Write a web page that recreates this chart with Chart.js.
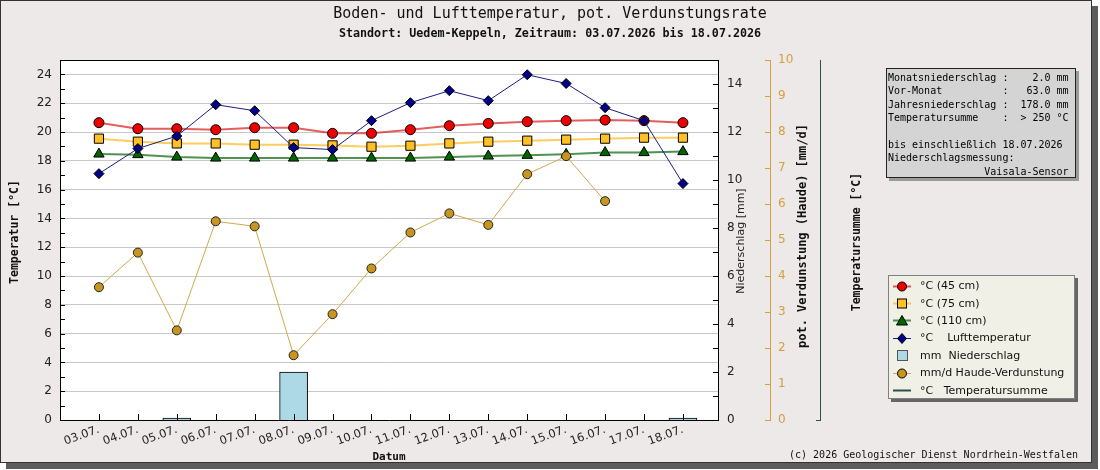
<!DOCTYPE html>
<html>
<head>
<meta charset="utf-8">
<script src="https://cdn.jsdelivr.net/npm/chart.js@4.4.1/dist/chart.umd.min.js"></script>
<style>
  body { margin: 0; width: 1100px; height: 470px; overflow: hidden; position: relative; background: #fff; font-family: 'DejaVu Sans', sans-serif; }
  #panel { position: absolute; left: 0; top: 0; width: 1090px; height: 461px; background: #ece9e8; border: 1px solid #333; box-shadow: 6px 6px 0 #5c5c5c; }
  #c { position: absolute; left: 0; top: 0; }
  #info { position: absolute; left: 886px; top: 68px; width: 190px; height: 110px; box-sizing: border-box; background: #d4d4d4; border: 1px solid #222; box-shadow: 3px 3px 0 #9a9a9a; font: 10px 'DejaVu Sans Mono', monospace; line-height: 13.4px; white-space: pre; padding: 2px 0 0 1px; color: #000; }
  #legend { position: absolute; left: 888px; top: 275px; width: 187px; height: 124px; box-sizing: border-box; background: #f0f0e6; border: 1px solid #808080; box-shadow: 3px 3px 0 #666; padding: 1px 0 0 4px; font-size: 11px; color: #111; }
  #legend .row { height: 17.4px; display: flex; align-items: center; white-space: pre; }
  #legend svg { width: 18px; height: 12px; margin-right: 9px; flex: none; }
  #credit { position: absolute; left: 760px; width: 318px; top: 449px; text-align: right; font: 10px 'DejaVu Sans Mono', monospace; line-height: 12px; color: #111; white-space: pre; }
</style>
</head>
<body>
<div id="panel"></div>
<canvas id="c" width="1100" height="470"></canvas>
<div id="info"></div>
<div id="legend"></div>
<div id="credit">(c) 2026 Geologischer Dienst Nordrhein-Westfalen</div>
<script>
const dates = ['03.07.', '04.07.', '05.07.', '06.07.', '07.07.', '08.07.', '09.07.', '10.07.',
  '11.07.', '12.07.', '13.07.', '14.07.', '15.07.', '16.07.', '17.07.', '18.07.'];

const temp45 = [20.65, 20.23, 20.23, 20.16, 20.30, 20.30, 19.91, 19.91, 20.16, 20.44, 20.60, 20.72, 20.79, 20.83, 20.79, 20.65];
const temp75 = [19.54, 19.33, 19.21, 19.21, 19.12, 19.12, 19.07, 18.98, 19.05, 19.21, 19.33, 19.40, 19.47, 19.54, 19.61, 19.61];
const temp110 = [18.47, 18.43, 18.26, 18.19, 18.19, 18.19, 18.19, 18.19, 18.19, 18.26, 18.33, 18.38, 18.45, 18.57, 18.57, 18.64];
const airTemp = [17.11, 18.85, 19.72, 21.90, 21.48, 18.92, 18.78, 20.79, 22.04, 22.87, 22.18, 23.98, 23.37, 21.69, 20.79, 16.42];
const precip = [0, 0, 0.08, 0, 0, 2.0, 0, 0, 0, 0, 0, 0, 0, 0, 0, 0.08];
const evap = [3.69, 4.65, 2.49, 5.52, 5.38, 1.80, 2.94, 4.21, 5.21, 5.74, 5.42, 6.83, 7.33, 6.08, null, null];

const seriesLabels = ['°C (45 cm)', '°C (75 cm)', '°C (110 cm)', '°C    Lufttemperatur',
  'mm  Niederschlag', 'mm/d Haude-Verdunstung', '°C   Temperatursumme'];

const tempTicks = [0, 2, 4, 6, 8, 10, 12, 14, 16, 18, 20, 22, 24];
const precipTicks = [0, 2, 4, 6, 8, 10, 12, 14];
const evapTicks = [0, 1, 2, 3, 4, 5, 6, 7, 8, 9, 10];
const tempRange = [0, 25];
const precipRange = [0, 15];
const evapRange = [0, 10];

const infoLines = [
  'Monatsniederschlag :    2.0 mm',
  'Vor-Monat          :   63.0 mm',
  'Jahresniederschlag :  178.0 mm',
  'Temperatursumme    :  > 250 °C',
  '',
  'bis einschließlich 18.07.2026',
  'Niederschlagsmessung:',
  '                Vaisala-Sensor'
];
document.getElementById('info').textContent = infoLines.join('\n');

const evapColor = '#d2a040';
const tsColor = '#2f4f4f';
const pts = arr => arr.map((v, i) => ({ x: i, y: v }));
const tickList = list => s => { s.ticks = list.map(v => ({ value: v })); };

const plotBg = {
  id: 'plotBg',
  beforeDraw(chart) {
    const { ctx, chartArea: a } = chart;
    ctx.save();
    ctx.fillStyle = '#fff';
    ctx.fillRect(a.left, a.top, a.right - a.left, a.bottom - a.top);
    ctx.restore();
  }
};

const innerTicks = {
  id: 'innerTicks',
  afterDraw(chart) {
    const { ctx, chartArea: a, scales: s } = chart;
    const px = v => Math.round(v) + 0.5;
    const seg = (x1, y1, x2, y2, c) => {
      ctx.strokeStyle = c;
      ctx.beginPath(); ctx.moveTo(x1, y1); ctx.lineTo(x2, y2); ctx.stroke();
    };
    ctx.save();
    ctx.lineWidth = 1;
    seg(a.left, px(a.top), a.right, px(a.top), '#000');
    for (let v = s.y.min; v <= s.y.max; v++) {
      const y = px(s.y.getPixelForValue(v));
      seg(a.left, y, a.left + 5, y, '#000');
    }
    for (let v = s.yp.min; v <= s.yp.max; v++) {
      const y = px(s.yp.getPixelForValue(v));
      seg(a.right - 5, y, a.right, y, '#000');
    }
    for (let v = s.ye.min; v <= s.ye.max; v++) {
      const y = px(s.ye.getPixelForValue(v));
      seg(s.ye.left - 5, y, s.ye.left, y, evapColor);
    }
    seg(s.ts.left - 4, px(a.bottom), s.ts.left, px(a.bottom), tsColor);
    dates.forEach((d, i) => {
      const x = px(s.x.getPixelForValue(i));
      seg(x, a.bottom, x, a.bottom - 6, '#000');
    });
    ctx.restore();
  }
};

// vertical axis titles read bottom-to-top on all axes
const axisTitles = {
  id: 'axisTitles',
  afterDraw(chart) {
    const { ctx, chartArea: a, scales } = chart;
    const mid = (a.top + a.bottom) / 2;
    const spots = { y: [15, -8], yp: [23, 1], ye: [33, -4], ts: [37, 2] };
    Object.keys(spots).forEach(id => {
      const sc = scales[id];
      const t = sc.options.title;
      const f = Chart.helpers.toFont(t.font);
      ctx.save();
      ctx.translate(sc.left + spots[id][0], mid + spots[id][1]);
      ctx.rotate(-Math.PI / 2);
      ctx.font = f.string;
      ctx.fillStyle = t.color;
      ctx.textAlign = 'center';
      ctx.textBaseline = 'middle';
      ctx.fillText(t.text, 0, 0);
      ctx.restore();
    });
  }
};

const mono = 'DejaVu Sans Mono';
Chart.defaults.font.family = 'DejaVu Sans';

const chart = new Chart(document.getElementById('c'), {
  type: 'line',
  data: {
    datasets: [
      { label: seriesLabels[0], data: pts(temp45), yAxisID: 'y', order: 6,
        borderColor: 'rgba(220,40,40,0.75)', borderWidth: 2,
        pointStyle: 'circle', pointRadius: 5, pointBackgroundColor: '#ee0000', pointBorderColor: '#000', pointBorderWidth: 1 },
      { label: seriesLabels[1], data: pts(temp75), yAxisID: 'y', order: 5,
        borderColor: 'rgba(250,190,40,0.75)', borderWidth: 2,
        pointStyle: 'rect', pointRadius: 6.5, pointBackgroundColor: '#ffc125', pointBorderColor: '#000', pointBorderWidth: 1 },
      { label: seriesLabels[2], data: pts(temp110), yAxisID: 'y', order: 4,
        borderColor: 'rgba(20,110,20,0.75)', borderWidth: 2,
        pointStyle: 'triangle', pointRadius: 6, pointBackgroundColor: '#006400', pointBorderColor: '#000', pointBorderWidth: 1 },
      { label: seriesLabels[3], data: pts(airTemp), yAxisID: 'y', order: 3,
        borderColor: '#1c1c88', borderWidth: 1,
        pointStyle: 'rectRot', pointRadius: 5, pointBackgroundColor: '#000088', pointBorderColor: '#000', pointBorderWidth: 1 },
      { type: 'bar', label: seriesLabels[4], data: pts(precip), yAxisID: 'yp', order: 7,
        backgroundColor: '#add8e6', borderColor: '#000', borderWidth: 1, barThickness: 28 },
      { label: seriesLabels[5], data: pts(evap), yAxisID: 'ye', order: 2,
        borderColor: '#d4a84a', borderWidth: 1,
        pointStyle: 'circle', pointRadius: 4.5, pointBackgroundColor: '#c8961e', pointBorderColor: '#222', pointBorderWidth: 1 },
      { label: seriesLabels[6], data: [], yAxisID: 'ts', order: 1,
        borderColor: tsColor, borderWidth: 2, pointRadius: 0 }
    ]
  },
  options: {
    responsive: false,
    animation: false,
    devicePixelRatio: 1,
    layout: { padding: 0 },
    plugins: {
      legend: { display: false },
      tooltip: { enabled: false },
      title: { display: true, text: 'Boden- und Lufttemperatur, pot. Verdunstungsrate', color: '#111',
        font: { family: mono, size: 15, weight: 'normal' }, padding: { top: 5, bottom: 0 } },
      subtitle: { display: true, text: 'Standort: Uedem-Keppeln, Zeitraum: 03.07.2026 bis 18.07.2026', color: '#111',
        font: { family: mono, size: 11.7, weight: 'bold' }, padding: { top: 4, bottom: 19 } }
    },
    scales: {
      x: {
        type: 'linear', min: -1, max: 15.9, offset: false,
        afterBuildTicks: s => { s.ticks = dates.map((d, i) => ({ value: i })); },
        afterFit: s => { s.height = 50; },
        ticks: { autoSkip: false, minRotation: 20, maxRotation: 20, padding: 3, color: '#222', font: { size: 11.5 },
          callback: v => dates[v] },
        grid: { display: false, drawTicks: false, offset: false },
        border: { color: '#000' },
        title: { display: true, text: 'Datum', color: '#111', font: { family: mono, size: 11, weight: 'bold' },
          padding: { top: 0, bottom: 6 } }
      },
      y: {
        position: 'left', min: tempRange[0], max: tempRange[1],
        afterBuildTicks: tickList(tempTicks),
        afterFit: s => { s.width = 60; },
        ticks: { padding: 8, color: '#222', font: { size: 12 } },
        grid: { color: '#c8c8c8', drawTicks: false },
        border: { color: '#000' },
        title: { display: false, text: 'Temperatur [°C]', color: '#111', font: { family: mono, size: 11.5, weight: 'bold' } }
      },
      yp: {
        position: 'right', weight: 0, min: precipRange[0], max: precipRange[1],
        afterBuildTicks: tickList(precipTicks),
        afterFit: s => { s.width = 52; },
        ticks: { padding: 9, color: '#222', font: { size: 12 } },
        grid: { display: false, drawTicks: false },
        border: { color: '#000' },
        title: { display: false, text: 'Niederschlag [mm]', color: '#222', font: { size: 11 } }
      },
      ye: {
        position: 'right', weight: 1, min: evapRange[0], max: evapRange[1],
        afterBuildTicks: tickList(evapTicks),
        afterFit: s => { s.width = 50; },
        ticks: { padding: 8, color: evapColor, font: { size: 12 } },
        grid: { display: false, drawTicks: false },
        border: { color: evapColor },
        title: { display: false, text: 'pot. Verdunstung (Haude) [mm/d]', color: '#111', font: { family: mono, size: 12, weight: 'bold' } }
      },
      ts: {
        position: 'right', weight: 2, min: 0, max: 1,
        afterFit: s => { s.width = 280; },
        ticks: { display: false },
        grid: { display: false, drawTicks: false },
        border: { color: tsColor },
        title: { display: false, text: 'Temperatursumme [°C]', color: '#111', font: { family: mono, size: 11.5, weight: 'bold' } }
      }
    }
  },
  plugins: [plotBg, innerTicks, axisTitles]
});

// legend built from the datasets
function symbol(ds) {
  const ns = 'http://www.w3.org/2000/svg';
  let inner = '';
  if (ds.type === 'bar') {
    inner = `<rect x="4.5" y="1.5" width="10" height="10" fill="${ds.backgroundColor}" stroke="#555"/>`;
  } else {
    inner = `<line x1="0" y1="6.5" x2="18" y2="6.5" stroke="${ds.borderColor}" stroke-width="${ds.borderWidth > 1 ? 2 : 1}"/>`;
    const f = ds.pointBackgroundColor, b = '#000';
    if (ds.pointRadius > 0) {
      if (ds.pointStyle === 'circle') inner += `<circle cx="9" cy="6.5" r="4.5" fill="${f}" stroke="${b}"/>`;
      if (ds.pointStyle === 'rect') inner += `<rect x="4.5" y="2" width="9" height="9" fill="${f}" stroke="${b}"/>`;
      if (ds.pointStyle === 'triangle') inner += `<polygon points="9,1.5 14.5,11 3.5,11" fill="${f}" stroke="${b}"/>`;
      if (ds.pointStyle === 'rectRot') inner += `<polygon points="9,1.5 13.5,6.5 9,11.5 4.5,6.5" fill="${f}" stroke="${b}"/>`;
    }
  }
  return `<svg xmlns="${ns}" viewBox="0 0 18 12">${inner}</svg>`;
}
const legendEl = document.getElementById('legend');
chart.data.datasets.forEach(ds => {
  const row = document.createElement('div');
  row.className = 'row';
  row.innerHTML = symbol(ds);
  const span = document.createElement('span');
  span.textContent = ds.label;
  row.appendChild(span);
  legendEl.appendChild(row);
});
</script>
</body>
</html>
